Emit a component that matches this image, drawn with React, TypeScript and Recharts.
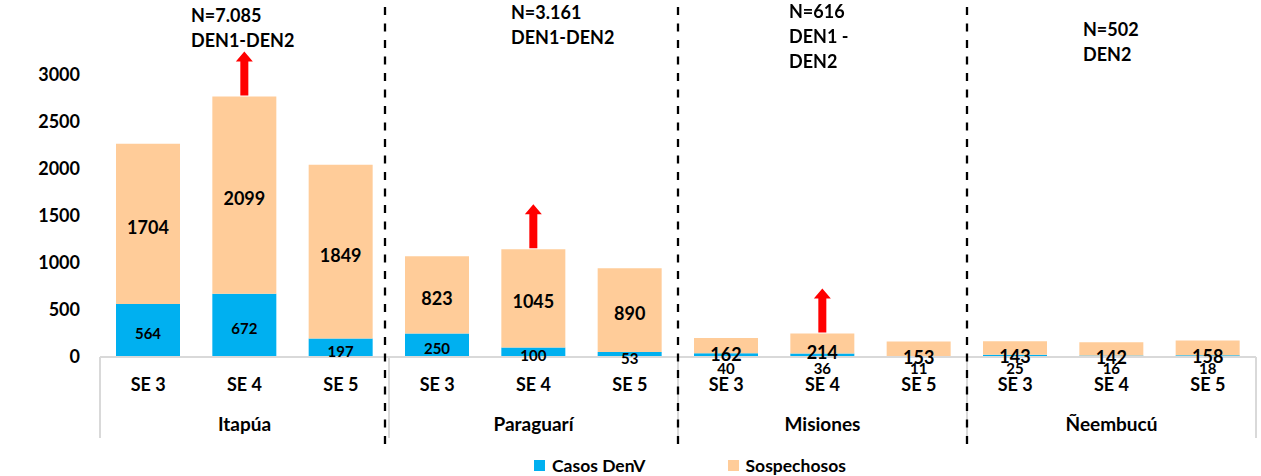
import { Bar, BarChart, LabelList, Legend, XAxis, YAxis } from "recharts";

// Casos DenV y sospechosos por departamento y semana epidemiológica
const grupos = ["Itapúa", "Paraguarí", "Misiones", "Ñeembucú"];
const semanas = ["SE 3", "SE 4", "SE 5"];
const casosDenV = [564, 672, 197, 250, 100, 53, 40, 36, 11, 25, 16, 18];
const sospechosos = [1704, 2099, 1849, 823, 1045, 890, 162, 214, 153, 143, 142, 158];
const flechas = [false, true, false, false, true, false, false, true, false, false, false, false];
const notas = [
  ["N=7.085", "DEN1-DEN2"],
  ["N=3.161", "DEN1-DEN2"],
  ["N=616", "DEN1 -", "DEN2"],
  ["N=502", "DEN2"],
];
const yTicks = [0, 500, 1000, 1500, 2000, 2500, 3000];

const W = 1261;
const H = 476;
const PLOT_L = 100;
const PLOT_R = 5;
const BAND = (W - PLOT_L - PLOT_R) / casosDenV.length;
const FONT = "Lato, 'Open Sans', sans-serif";
const AZUL = "#00B0F0";
const DURAZNO = "#FFCC99";
const GRIS = "#D9D9D9";

const NOTA_POS = [
  { left: 191, top: 3 },
  { left: 511, top: 0 },
  { left: 789, top: -1 },
  { left: 1083, top: 17 },
];

const data = casosDenV.map((c, i) => ({
  key: `${grupos[Math.floor(i / 3)]}|${semanas[i % 3]}`,
  casos: c,
  sospechosos: sospechosos[i],
}));

function SemanaTick(props: any) {
  const { x, y, payload } = props;
  const i: number = props.index ?? payload.index;
  const half = BAND / 2;
  return (
    <g>
      <text
        x={x}
        y={y + 27}
        textAnchor="middle"
        dominantBaseline="central"
        fontSize={18}
        fontWeight={700}
        fill="#000"
        fontFamily={FONT}
      >
        {semanas[i % 3]}
      </text>
      {i % 3 === 1 && (
        <text
          x={x}
          y={y + 66}
          textAnchor="middle"
          dominantBaseline="central"
          fontSize={19}
          fontWeight={700}
          fill="#000"
          fontFamily={FONT}
        >
          {grupos[Math.floor(i / 3)]}
        </text>
      )}
      {i % 3 === 0 && (
        <line x1={x - half} x2={x - half} y1={y} y2={y + 81} stroke={GRIS} strokeWidth={2} />
      )}
      {i === casosDenV.length - 1 && (
        <line x1={x + half} x2={x + half} y1={y} y2={y + 81} stroke={GRIS} strokeWidth={2} />
      )}
    </g>
  );
}

function CasosLabel(p: any) {
  const { x, y, width, height, value } = p;
  const cy = height >= 4.5 ? y + height / 2 + 3 : y + height + 11;
  return (
    <text
      x={x + width / 2}
      y={cy}
      textAnchor="middle"
      dominantBaseline="central"
      fontSize={15}
      fontWeight={700}
      fill="#000"
      fontFamily={FONT}
    >
      {value}
    </text>
  );
}

function SospLabel(p: any) {
  const { x, y, width, height, value, index } = p;
  const cx = x + width / 2;
  const cy = height < 22 ? y + height / 2 + 8 : y + height / 2 + 3;
  const b = y - 1;
  return (
    <g>
      <text
        x={cx}
        y={cy}
        textAnchor="middle"
        dominantBaseline="central"
        fontSize={18}
        fontWeight={700}
        fill="#000"
        fontFamily={FONT}
      >
        {value}
      </text>
      {flechas[index] && (
        <polygon
          fill="#FF0000"
          points={`${cx - 4},${b} ${cx + 4},${b} ${cx + 4},${b - 34} ${cx + 8.5},${b - 34} ${cx},${b - 44} ${cx - 8.5},${b - 34} ${cx - 4},${b - 34}`}
        />
      )}
    </g>
  );
}

function Leyenda() {
  const item = (color: string, texto: string, ml: number) => (
    <div style={{ display: "flex", alignItems: "center", marginLeft: ml }}>
      <span style={{ width: 11, height: 11, background: color, marginRight: 7 }} />
      <span>{texto}</span>
    </div>
  );
  return (
    <div
      style={{
        height: 22,
        display: "flex",
        alignItems: "center",
        paddingLeft: 534,
        fontFamily: FONT,
        fontSize: 17.5,
        fontWeight: 700,
        color: "#000",
      }}
    >
      {item(AZUL, "Casos DenV", 0)}
      {item(DURAZNO, "Sospechosos", 82)}
    </div>
  );
}

export default function App() {
  const separadores = [1, 2, 3].map((k) => PLOT_L + BAND * 3 * k);
  return (
    <div style={{ position: "fixed", left: 0, top: 0, width: W, height: H, background: "#fff" }}>
      <BarChart
        width={W}
        height={H}
        data={data}
        margin={{ top: 75, right: PLOT_R, bottom: 0, left: 0 }}
        style={{ fontFamily: FONT }}
      >
        <YAxis
          width={PLOT_L}
          domain={[0, 3000]}
          ticks={yTicks}
          axisLine={false}
          tickLine={false}
          tickSize={0}
          tickMargin={20}
          tick={{ fontSize: 18, fontWeight: 700, fill: "#000", fontFamily: FONT }}
        />
        <XAxis
          dataKey="key"
          height={97}
          interval={0}
          tickLine={false}
          tickSize={0}
          tickMargin={0}
          axisLine={{ stroke: GRIS, strokeWidth: 2 }}
          tick={<SemanaTick />}
        />
        <Legend verticalAlign="bottom" wrapperStyle={{ left: 0, width: W }} content={() => <Leyenda />} />
        <Bar dataKey="casos" name="Casos DenV" stackId="a" fill={AZUL} barSize={64} isAnimationActive={false}>
          <LabelList dataKey="casos" content={<CasosLabel />} />
        </Bar>
        <Bar dataKey="sospechosos" name="Sospechosos" stackId="a" fill={DURAZNO} barSize={64} isAnimationActive={false}>
          <LabelList dataKey="sospechosos" content={<SospLabel />} />
        </Bar>
      </BarChart>
      <svg
        width={W}
        height={H}
        style={{ position: "absolute", left: 0, top: 0, pointerEvents: "none" }}
      >
        {separadores.map((sx, i) => (
          <line
            key={i}
            x1={sx - (i === 0 ? 4 : 0)}
            x2={sx - (i === 0 ? 4 : 0)}
            y1={7}
            y2={450}
            stroke="#000"
            strokeWidth={2.3}
            strokeDasharray="8 8.5"
          />
        ))}
      </svg>
      {notas.map((lineas, i) => (
        <div
          key={i}
          style={{
            position: "absolute",
            left: NOTA_POS[i].left,
            top: NOTA_POS[i].top,
            fontFamily: FONT,
            fontSize: 18,
            fontWeight: 700,
            lineHeight: "25px",
            color: "#000",
            whiteSpace: "nowrap",
          }}
        >
          {lineas.map((l, j) => (
            <div key={j}>{l}</div>
          ))}
        </div>
      ))}
    </div>
  );
}
